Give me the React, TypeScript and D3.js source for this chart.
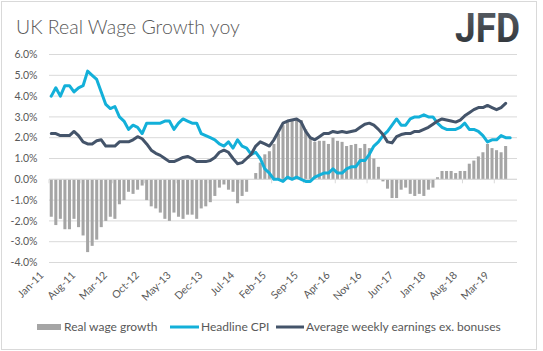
import React from 'react';
import * as d3 from 'd3';

// monthly, Jan-11 .. Jul-19 (axis runs one month past the last data point)
const months = d3.timeMonth.range(new Date(2011, 0, 1), new Date(2019, 7, 1));
const tickLabels = ['Jan-11', 'Aug-11', 'Mar-12', 'Oct-12', 'May-13', 'Dec-13', 'Jul-14', 'Feb-15',
  'Sep-15', 'Apr-16', 'Nov-16', 'Jun-17', 'Jan-18', 'Aug-18', 'Mar-19'];
const yTicks = [6, 5, 4, 3, 2, 1, 0, -1, -2, -3, -4];

// Real wage growth (bars), Jan-11 .. May-19
const realWage = [
  -1.8, -2.2, -1.9, -2.4, -2.4, -1.9, -2.3, -2.7, -3.5, -3.2, -2.9, -2.3,
  -2.0, -1.8, -1.9, -1.2, -1.0, -0.6, -0.7, -0.5, -0.3, -1.0, -1.3, -1.4,
  -1.6, -1.9, -2.0, -1.6, -1.8, -1.9, -1.7, -1.7, -1.9, -1.4, -1.3, -1.1,
  -0.8, -0.4, -0.25, -0.5, -0.6, -1.15, -0.8, -0.6, 0.0, 0.3, 0.8, 1.2,
  1.35, 1.7, 2.2, 2.6, 2.75, 2.8, 2.9, 2.85, 2.4, 2.0, 1.8, 1.85, 1.85, 1.7,
  2.0, 1.85, 1.8, 1.6, 1.65, 1.7, 1.5, 1.7, 1.5, 1.0, 0.6, -0.1,
  -0.45, -0.9, -0.9, -0.5, -0.4, -0.7, -0.8, -0.7, -0.8, -0.5, -0.4, 0.1,
  0.4, 0.4, 0.4, 0.3, 0.4, 0.4, 0.75, 0.9, 1.1, 1.3, 1.7, 1.5,
  1.4, 1.3, 1.6,
];

// Headline CPI, Jan-11 .. Jun-19
const cpi = [
  4.0, 4.4, 4.0, 4.5, 4.5, 4.2, 4.4, 4.5, 5.2, 5.0, 4.8, 4.2,
  3.6, 3.4, 3.5, 3.0, 2.8, 2.4, 2.6, 2.5, 2.2, 2.7, 2.7, 2.7,
  2.7, 2.8, 2.8, 2.4, 2.7, 2.9, 2.8, 2.7, 2.7, 2.2, 2.1, 2.0,
  1.9, 1.7, 1.6, 1.8, 1.5, 1.9, 1.6, 1.5, 1.2, 1.3, 1.0, 0.5,
  0.3, 0.0, 0.0, -0.1, 0.1, 0.0, 0.1, 0.0, -0.1, -0.1, 0.1, 0.2,
  0.3, 0.3, 0.5, 0.3, 0.3, 0.5, 0.6, 0.6, 0.9, 0.9, 1.2, 1.6,
  1.8, 2.1, 2.3, 2.6, 2.9, 2.6, 2.6, 2.9, 3.0, 3.0, 3.1, 3.0,
  3.0, 2.7, 2.5, 2.4, 2.4, 2.4, 2.5, 2.7, 2.4, 2.4, 2.3, 2.1,
  1.8, 1.9, 1.9, 2.1, 2.0, 2.0,
];

// Average weekly earnings ex. bonuses, Jan-11 .. May-19
const awe = [
  2.2, 2.2, 2.1, 2.1, 2.1, 2.3, 2.1, 1.8, 1.7, 1.7, 1.85, 1.9,
  1.6, 1.6, 1.6, 1.8, 1.8, 1.8, 1.9, 2.05, 1.95, 1.7, 1.4, 1.25,
  1.15, 1.0, 0.85, 0.85, 0.95, 1.05, 1.1, 1.0, 0.85, 0.85, 0.85, 0.9,
  1.05, 1.3, 1.4, 1.3, 1.0, 0.75, 0.8, 1.0, 1.2, 1.6, 1.8, 1.7,
  1.6, 1.9, 2.3, 2.7, 2.8, 2.85, 2.9, 2.75, 2.3, 2.0, 1.9, 2.05, 2.2, 2.2,
  2.3, 2.25, 2.3, 2.25, 2.3, 2.35, 2.5, 2.65, 2.7, 2.6, 2.4, 2.15,
  1.8, 1.75, 2.05, 2.15, 2.2, 2.2, 2.3, 2.3, 2.4, 2.5, 2.65, 2.8,
  2.9, 2.85, 2.8, 2.75, 2.85, 3.05, 3.2, 3.35, 3.45, 3.45, 3.55, 3.45,
  3.35, 3.45, 3.65,
];

const FONT = 'Lato, "Open Sans", sans-serif';
const TEXT = '#595959';
const GRID = '#d9d9d9';
const BAR = '#a5a5a5';
const CPI_COL = '#13b0d9';
const AWE_COL = '#44546a';

export default function App() {
  const width = 543;
  const height = 351;
  const left = 49;
  const right = 517;
  const top = 54.5;
  const bottom = 262.5;

  const idx = d3.range(months.length);
  const x = d3.scaleBand<number>().domain(idx).range([left, right])
    .paddingInner(0.33).paddingOuter(0.165);
  const y = d3.scaleLinear().domain([-4, 6]).range([bottom, top]);
  const cx = (i: number) => (x(i) ?? 0) + x.bandwidth() / 2;
  const fmt = d3.timeFormat('%b-%y');

  const line = d3.line<number>()
    .x((_, i) => cx(i))
    .y(d => y(d));

  const tickIdx = idx.filter(i => i % 7 === 0 && tickLabels.includes(fmt(months[i])));

  return (
    <div style={{ position: 'absolute', left: 0, top: 0 }}>
      <svg width={width} height={height} style={{ display: 'block', fontFamily: FONT }}>
        <defs>
          <linearGradient id="logo" x1="0" y1="0" x2="0" y2="1">
            <stop offset="0" stopColor="#5b6168" />
            <stop offset="1" stopColor="#2a2e33" />
          </linearGradient>
        </defs>
        <rect x={0} y={0} width={width} height={height} fill="#fff" />
        <rect x={1.5} y={1.5} width={535} height={348} fill="none" stroke={GRID} />

        <text x={16} y={34} fontSize={19.5} fontWeight={300} fill={TEXT}>UK Real Wage Growth yoy</text>
        <text x={455} y={42} fontSize={40} fontWeight={700} fill="url(#logo)"
          fontFamily="Roboto, sans-serif" textLength={65} lengthAdjust="spacingAndGlyphs">JFD</text>

        {/* gridlines + y labels */}
        {yTicks.map(t => (
          <g key={t}>
            <line x1={left} x2={right} y1={y(t)} y2={y(t)} stroke={GRID} />
            <text x={37.5} y={y(t)} dy="0.35em" textAnchor="end" fontSize={10.5} fill={TEXT}>
              {t.toFixed(1) + '%'}
            </text>
          </g>
        ))}

        {/* bars */}
        <g fill={BAR}>
          {realWage.map((v, i) => (
            <rect key={i} x={x(i)} width={x.bandwidth()}
              y={Math.min(y(v), y(0))} height={Math.abs(y(v) - y(0))} />
          ))}
        </g>

        {/* category axis at zero */}
        <line x1={left} x2={right} y1={y(0)} y2={y(0)} stroke={GRID} />
        {tickIdx.map(i => {
          const tx = (x(i) ?? 0) - x.step() * x.paddingInner() / 2;
          return <line key={i} x1={tx} x2={tx} y1={y(0)} y2={y(0) + 4} stroke={GRID} />;
        })}

        {/* series lines */}
        <path d={line(cpi) ?? ''} fill="none" stroke={CPI_COL} strokeWidth={3} strokeLinejoin="round" strokeLinecap="round" />
        <path d={line(awe) ?? ''} fill="none" stroke={AWE_COL} strokeWidth={3} strokeLinejoin="round" strokeLinecap="round" />

        {/* x labels */}
        {tickIdx.map(i => (
          <text key={i} transform={`translate(${cx(i) - 7},${276}) rotate(-45)`}
            textAnchor="end" fontSize={10.5} fill={TEXT}>
            {fmt(months[i])}
          </text>
        ))}

        {/* legend */}
        <g fontSize={12} fill={TEXT}>
          <rect x={37} y={324} width={24} height={6} fill={BAR} />
          <text x={64} y={327} dy="0.35em">Real wage growth</text>
          <line x1={170} x2={199} y1={327} y2={327} stroke={CPI_COL} strokeWidth={3} />
          <text x={201} y={327} dy="0.35em">Headline CPI</text>
          <line x1={276} x2={304} y1={327} y2={327} stroke={AWE_COL} strokeWidth={3} />
          <text x={306} y={327} dy="0.35em">Average weekly earnings ex. bonuses</text>
        </g>
      </svg>
    </div>
  );
}
